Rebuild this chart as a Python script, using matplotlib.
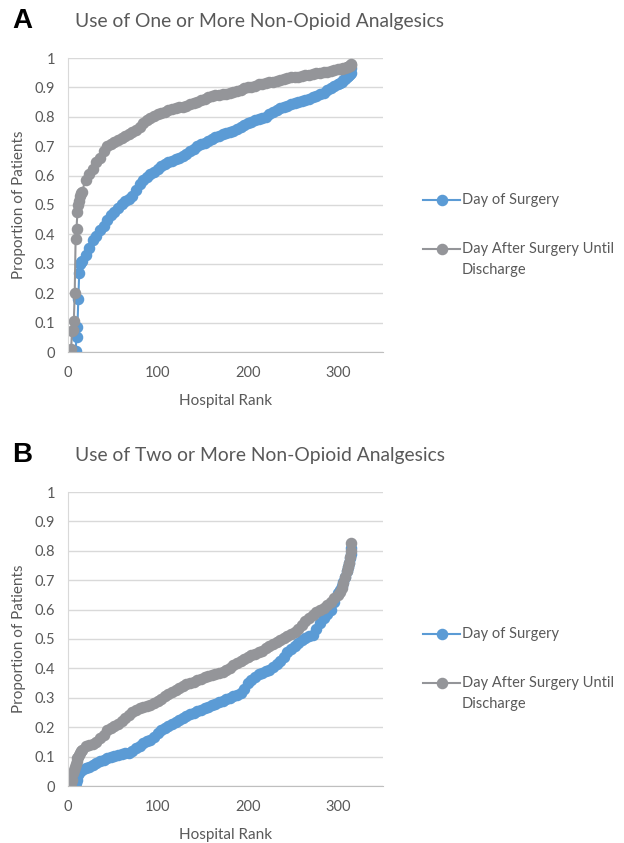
import matplotlib
matplotlib.use('Agg')
import matplotlib.pyplot as plt
from matplotlib.lines import Line2D

plt.rcParams['font.family'] = ['Lato', 'DejaVu Sans']

# 병원 순위 (x축)
ranks_early = list(range(1, 17))
ranks_mid = list(range(20, 301, 4))
ranks_late = [302, 304, 306, 308, 310, 311, 312, 313, 314, 315]
ranks = ranks_early + ranks_mid + ranks_late

# A: 하나 이상의 비마약성 진통제
a_day_of = [
    0, 0, 0, 0, 0, 0, 0, 0, 0.005, 0.05, 0.085, 0.18, 0.27, 0.30, 0.305, 0.31,
    0.33, 0.355, 0.38, 0.395, 0.415, 0.43, 0.45, 0.465, 0.475, 0.49,
    0.505, 0.515, 0.52, 0.53, 0.55, 0.57, 0.585, 0.595, 0.605, 0.612,
    0.622, 0.632, 0.64, 0.645, 0.65, 0.655, 0.66, 0.667, 0.675, 0.683,
    0.69, 0.70, 0.707, 0.712, 0.718, 0.724, 0.73, 0.735, 0.74, 0.744,
    0.748, 0.752, 0.757, 0.764, 0.773, 0.78, 0.784, 0.788, 0.792, 0.796,
    0.80, 0.808, 0.816, 0.823, 0.83, 0.834, 0.838, 0.843, 0.847, 0.85,
    0.854, 0.857, 0.862, 0.867, 0.871, 0.876, 0.882, 0.89, 0.898, 0.905,
    0.911,
    0.915, 0.92, 0.925, 0.93, 0.936, 0.94, 0.942, 0.945, 0.95, 0.965,
]
a_after = [
    0, 0, 0.005, 0.01, 0.07, 0.075, 0.105, 0.2, 0.385, 0.42, 0.475, 0.50, 0.515, 0.53, 0.54, 0.545,
    0.585, 0.605, 0.622, 0.645, 0.66, 0.685, 0.70, 0.708, 0.715, 0.72,
    0.728, 0.735, 0.74, 0.748, 0.755, 0.765, 0.78, 0.79, 0.797, 0.802,
    0.808, 0.813, 0.818, 0.822, 0.826, 0.829, 0.832, 0.835, 0.838, 0.842,
    0.846, 0.852, 0.857, 0.862, 0.866, 0.87, 0.873, 0.875, 0.877, 0.879,
    0.882, 0.885, 0.887, 0.892, 0.897, 0.90, 0.903, 0.906, 0.91, 0.913,
    0.915, 0.918, 0.92, 0.923, 0.925, 0.928, 0.931, 0.934, 0.936, 0.937,
    0.939, 0.941, 0.943, 0.946, 0.948, 0.95, 0.952, 0.954, 0.957, 0.959,
    0.962,
    0.963, 0.964, 0.965, 0.966, 0.97, 0.971, 0.972, 0.974, 0.976, 0.98,
]

# B: 두 개 이상의 비마약성 진통제
b_day_of = [
    0, 0, 0, 0, 0, 0, 0, 0.005, 0.01, 0.02, 0.03, 0.04, 0.045, 0.05, 0.053, 0.055,
    0.06, 0.066, 0.072, 0.078, 0.085, 0.09, 0.095, 0.10, 0.103, 0.107,
    0.109, 0.111, 0.113, 0.118, 0.128, 0.137, 0.145, 0.152, 0.158, 0.165,
    0.18, 0.19, 0.198, 0.205, 0.212, 0.218, 0.225, 0.231, 0.238, 0.245,
    0.25, 0.255, 0.259, 0.264, 0.27, 0.275, 0.28, 0.285, 0.29, 0.296,
    0.30, 0.305, 0.31, 0.317, 0.33, 0.35, 0.36, 0.37, 0.38, 0.385,
    0.39, 0.395, 0.405, 0.415, 0.425, 0.44, 0.455, 0.465, 0.475, 0.485,
    0.495, 0.505, 0.51, 0.515, 0.535, 0.555, 0.57, 0.585, 0.60, 0.625,
    0.655,
    0.665, 0.68, 0.695, 0.71, 0.73, 0.745, 0.76, 0.775, 0.79, 0.81,
]
b_after = [
    0, 0, 0.005, 0.01, 0.02, 0.045, 0.055, 0.065, 0.075, 0.085, 0.095, 0.10, 0.106, 0.112, 0.118, 0.122,
    0.135, 0.14, 0.143, 0.15, 0.162, 0.175, 0.19, 0.198, 0.204, 0.21,
    0.22, 0.23, 0.24, 0.252, 0.26, 0.264, 0.268, 0.272, 0.277, 0.283,
    0.29, 0.297, 0.305, 0.313, 0.32, 0.327, 0.334, 0.341, 0.347, 0.352,
    0.355, 0.36, 0.365, 0.37, 0.375, 0.378, 0.381, 0.384, 0.389, 0.395,
    0.402, 0.41, 0.417, 0.425, 0.433, 0.44, 0.445, 0.45, 0.455, 0.46,
    0.468, 0.475, 0.482, 0.49, 0.496, 0.503, 0.51, 0.518, 0.525, 0.535,
    0.548, 0.56, 0.572, 0.583, 0.593, 0.6, 0.607, 0.615, 0.626, 0.638,
    0.65,
    0.66, 0.675, 0.69, 0.71, 0.73, 0.745, 0.76, 0.78, 0.80, 0.826,
]

blue = '#5B9BD5'
gray = '#949599'
text_gray = '#595959'
grid_gray = '#D9D9D9'

W, H = 624, 843
fig = plt.figure(figsize=(W / 100, H / 100), dpi=100)


def fx(px):
    return px / W


def fy(py):
    return 1 - py / H


def draw_panel(top_px, letter, title, day_of, after):
    ax = fig.add_axes([fx(67.5), fy(top_px + 294), fx(383) - fx(67.5), 294 / H])
    ax.plot(ranks, day_of, color=blue, lw=1.5, marker='o', ms=7.3,
            mec=blue, mfc=blue)
    ax.plot(ranks, after, color=gray, lw=1.5, marker='o', ms=7.3,
            mec=gray, mfc=gray)
    ax.set_xlim(0, 350)
    ax.set_ylim(0, 1)
    ax.set_xticks([0, 100, 200, 300])
    ax.set_yticks([0, 0.1, 0.2, 0.3, 0.4, 0.5, 0.6, 0.7, 0.8, 0.9, 1])
    ax.set_yticklabels(['0', '0.1', '0.2', '0.3', '0.4', '0.5', '0.6',
                        '0.7', '0.8', '0.9', '1'])
    ax.yaxis.grid(True, color=grid_gray, lw=1)
    ax.set_axisbelow(True)
    for s in ['top', 'right']:
        ax.spines[s].set_visible(False)
    ax.spines['left'].set_color(grid_gray)
    ax.spines['bottom'].set_color('#BFBFBF')
    ax.tick_params(length=0, labelsize=10.5, labelcolor=text_gray)
    ax.tick_params(axis='x', pad=10)
    ax.tick_params(axis='y', pad=9)
    ax.set_xlabel('Hospital Rank', fontsize=11, color=text_gray, labelpad=10)
    ax.set_ylabel('Proportion of Patients', fontsize=11, color=text_gray, labelpad=6)

    # 범례 (수동 배치)
    for color, ypx in [(blue, top_px + 142), (gray, top_px + 191)]:
        fig.add_artist(Line2D([fx(423), fx(460)], [fy(ypx), fy(ypx)],
                              color=color, lw=1.5, marker=None))
        fig.add_artist(Line2D([fx(441.5)], [fy(ypx)], color=color,
                              marker='o', ms=7.3, lw=0))
    fig.text(fx(462), fy(top_px + 142), 'Day of Surgery', fontsize=10.5,
             color=text_gray, va='center', ha='left')
    fig.text(fx(462), fy(top_px + 191), 'Day After Surgery Until', fontsize=10.5,
             color=text_gray, va='center', ha='left')
    fig.text(fx(462), fy(top_px + 212), 'Discharge', fontsize=10.5,
             color=text_gray, va='center', ha='left')

    fig.text(fx(12), fy(top_px - 37), letter, fontsize=20, fontweight='bold',
             family='Liberation Sans', va='center', ha='left')
    fig.text(fx(75), fy(top_px - 37), title, fontsize=13.9, color=text_gray,
             va='center', ha='left')
    return ax


draw_panel(58, 'A', 'Use of One or More Non-Opioid Analgesics', a_day_of, a_after)
draw_panel(492, 'B', 'Use of Two or More Non-Opioid Analgesics', b_day_of, b_after)

fig.savefig('out.png', dpi=100)
